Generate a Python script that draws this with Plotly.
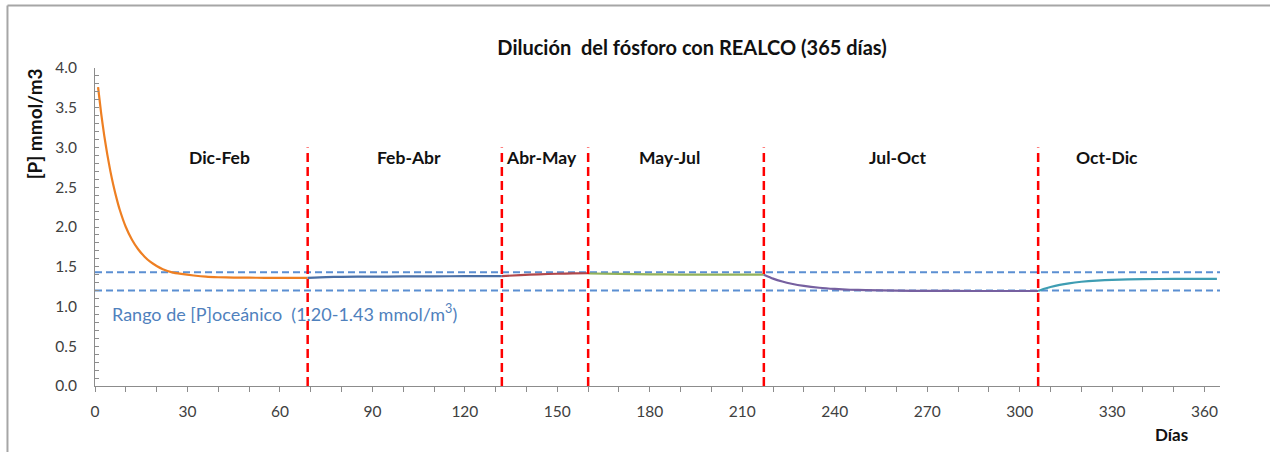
import plotly.graph_objects as go

# Phosphorus concentration [P] (mmol/m3) per simulated day, one array per season
orange_days = [1, 2, 3, 4, 5, 6, 7, 8, 10, 12, 14, 16, 18, 20, 22, 25, 28, 32, 36, 40, 45, 50, 55, 60, 65, 69]
orange_vals = [3.76, 3.43, 3.15, 2.91, 2.70, 2.52, 2.36, 2.22, 2.00, 1.84, 1.72, 1.63, 1.56, 1.51, 1.47,
               1.43, 1.41, 1.39, 1.375, 1.368, 1.364, 1.362, 1.361, 1.36, 1.36, 1.36]

blue_days = [69, 75, 80, 90, 100, 110, 120, 132]
blue_vals = [1.36, 1.37, 1.373, 1.376, 1.378, 1.38, 1.381, 1.383]

red_days = [132, 138, 144, 150, 155, 160]
red_vals = [1.383, 1.395, 1.405, 1.412, 1.416, 1.418]

green_days = [160, 170, 180, 190, 200, 210, 217]
green_vals = [1.415, 1.41, 1.405, 1.402, 1.40, 1.40, 1.40]

purple_days = [217, 220, 223, 226, 230, 235, 240, 245, 250, 260, 270, 285, 306]
purple_vals = [1.40, 1.351, 1.314, 1.286, 1.259, 1.236, 1.221, 1.211, 1.206, 1.199, 1.197, 1.195, 1.195]

teal_days = [306, 308, 310, 313, 316, 320, 325, 330, 340, 350, 364]
teal_vals = [1.195, 1.223, 1.245, 1.272, 1.292, 1.311, 1.326, 1.335, 1.344, 1.347, 1.348]

# Season boundaries (days) and labels
boundaries = [69, 132, 160, 217, 306]
season_names = ["Dic-Feb", "Feb-Abr", "Abr-May", "May-Jul", "Jul-Oct", "Oct-Dic"]
season_label_x = [40.3, 102, 144.8, 186.4, 260.4, 328.2]
season_label_y = 2.87
boundary_top = 3.0

# Oceanic phosphorus range (mmol/m3)
ocean_low = 1.20
ocean_high = 1.43

x_max = 365
y_max = 4.0

FONT = "Lato"

segments = [
    (orange_days, orange_vals, "#EE7F22"),
    (blue_days, blue_vals, "#4A6FA5"),
    (red_days, red_vals, "#B0474A"),
    (green_days, green_vals, "#93B25A"),
    (purple_days, purple_vals, "#7660A0"),
    (teal_days, teal_vals, "#3E9DB3"),
]

fig = go.Figure()

# Oceanic range band edges
for level in (ocean_high, ocean_low):
    fig.add_trace(go.Scatter(
        x=[0, x_max], y=[level, level], mode="lines",
        line=dict(color="#5B8FD2", width=2, dash="7px,4px"),
        hoverinfo="skip", showlegend=False,
    ))

# Concentration curve, coloured by season
for days, vals, color in segments:
    fig.add_trace(go.Scatter(
        x=days, y=vals, mode="lines",
        line=dict(color=color, width=2.2, shape="spline", smoothing=0.6),
        showlegend=False,
    ))

# Season separators
for b in boundaries:
    fig.add_trace(go.Scatter(
        x=[b, b], y=[0, boundary_top], mode="lines",
        line=dict(color="#FF0000", width=2.5, dash="9px,5px"),
        hoverinfo="skip", showlegend=False,
    ))

annotations = []
for name, lx in zip(season_names, season_label_x):
    annotations.append(dict(
        x=lx, y=season_label_y, xref="x", yref="y", text=f"<b>{name}</b>",
        xanchor="center", yanchor="middle",
        showarrow=False, font=dict(family=FONT, size=17.5, color="#111111"),
    ))

annotations.append(dict(
    x=4.9, y=0.92, xref="x", yref="y", xanchor="left", yanchor="middle",
    text=f"Rango de [P]oceánico  ({ocean_low:.2f}-{ocean_high:.2f} mmol/m<sup>3</sup>)",
    showarrow=False, font=dict(family=FONT, size=18, color="#4F81BD"),
))

annotations.append(dict(
    x=-0.053, y=0.824, xref="paper", yref="paper", textangle=-90,
    xanchor="center", yanchor="middle",
    text="<b>[P] mmol/m3</b>", showarrow=False,
    font=dict(family=FONT, size=19, color="#111111"),
))

annotations.append(dict(
    x=349.4, y=-0.151, xref="x", yref="paper", text="<b>Días</b>",
    xanchor="center", yanchor="middle",
    showarrow=False, font=dict(family=FONT, size=17, color="#111111"),
))

# Outer frame (top and left edges)
frame_color = "#A6A6A6"
shapes = [
    dict(type="line", xref="paper", yref="paper", x0=-0.0778, x1=1.05, y0=1.1965, y1=1.1965,
         line=dict(color=frame_color, width=2)),
    dict(type="line", xref="paper", yref="paper", x0=-0.0778, x1=-0.0778, y0=1.1965, y1=-0.25,
         line=dict(color=frame_color, width=2)),
]

fig.update_layout(
    width=1270, height=452,
    margin=dict(l=95, r=50, t=68, b=66),
    paper_bgcolor="white", plot_bgcolor="white",
    title=dict(
        text="<b>Dilución  del fósforo con REALCO (365 días)</b>",
        x=692 / 1270, xanchor="center", y=1 - 48 / 452, yanchor="middle",
        font=dict(family=FONT, size=20, color="#111111"),
    ),
    annotations=annotations,
    shapes=shapes,
    showlegend=False,
)

fig.update_xaxes(
    range=[0, x_max], tick0=0, dtick=30,
    showline=True, linecolor="#8C8C8C", linewidth=1,
    ticks="outside", ticklen=5, tickcolor="#8C8C8C",
    minor=dict(dtick=10, ticks="outside", ticklen=5, tickcolor="#8C8C8C"),
    showgrid=False, zeroline=False,
    tickfont=dict(family=FONT, size=15.5, color="#404040"),
    ticklabelstandoff=6,
)

fig.update_yaxes(
    range=[0, y_max], tick0=0, dtick=0.5, tickformat=".1f",
    showline=True, linecolor="#8C8C8C", linewidth=1,
    ticks="inside", ticklen=4, tickcolor="#8C8C8C",
    minor=dict(dtick=0.1, ticks="inside", ticklen=4, tickcolor="#8C8C8C"),
    showgrid=False, zeroline=False,
    tickfont=dict(family=FONT, size=15.5, color="#404040"),
    ticklabelstandoff=14,
)

fig.write_html("out.html")
